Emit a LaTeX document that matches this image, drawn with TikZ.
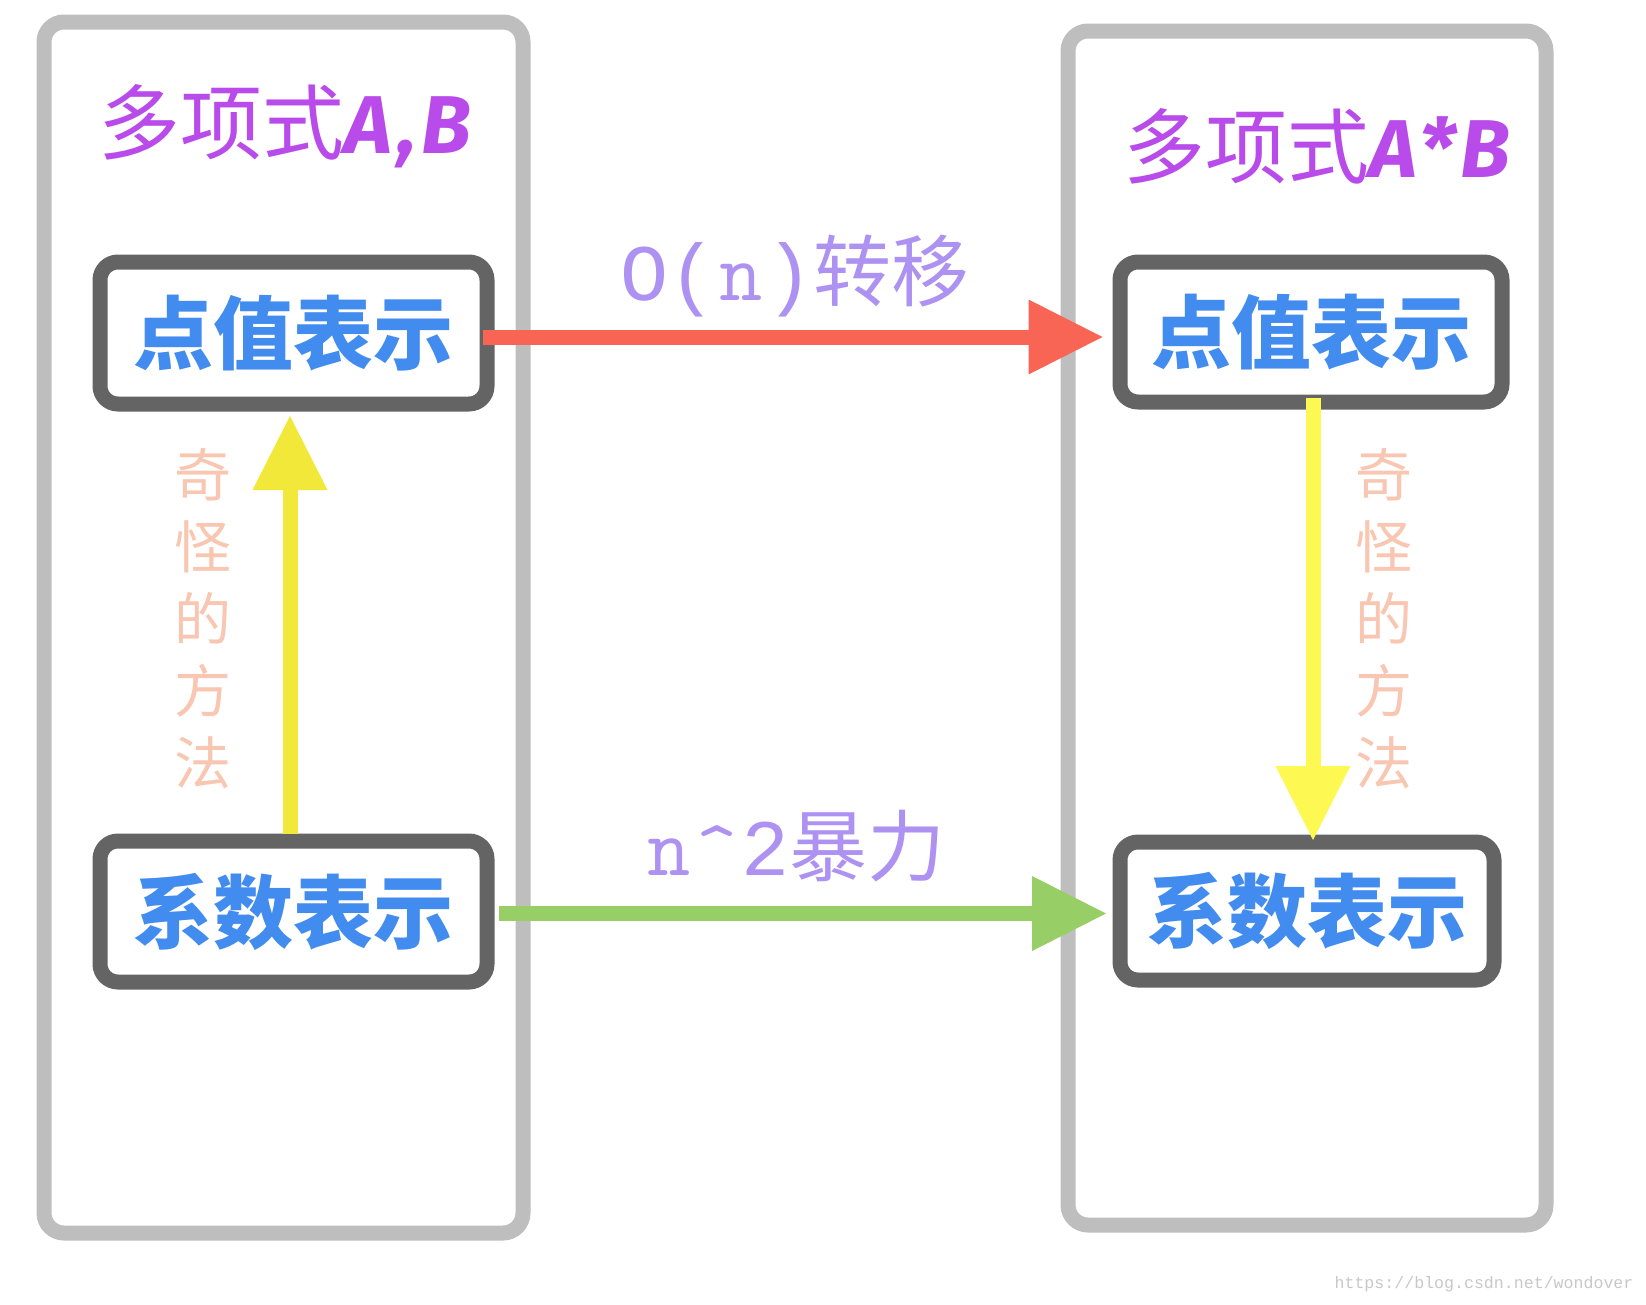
\documentclass[tikz,border=0pt]{standalone}
\usepackage{fontspec}
\setmainfont{Noto Sans CJK SC}
\newfontfamily\cjk{Noto Sans CJK SC}
\newfontfamily\monof{Liberation Mono}
\newfontfamily\titlelat{Fira Sans}
\usetikzlibrary{arrows.meta}
\definecolor{outergray}{HTML}{BEBEBE}
\definecolor{boxgray}{HTML}{646464}
\definecolor{textblue}{HTML}{428CF0}
\definecolor{arrred}{HTML}{F96555}
\definecolor{yelL}{HTML}{F2E83A}
\definecolor{yelR}{HTML}{FEF952}
\definecolor{grn}{HTML}{97CE65}
\definecolor{purp}{HTML}{B84BEA}
\definecolor{lav}{HTML}{AE92F2}
\definecolor{salmon}{HTML}{F8C6B1}
\definecolor{wmgray}{HTML}{C8C8C8}
\newcommand\codefont{\monof\fontsize{80}{80}\selectfont}
\newcommand\sern{\makebox[48pt]{\ttfamily\fontsize{84}{84}\selectfont n}}
\begin{document}
\begin{tikzpicture}[x=1pt,y=-1pt,
  outerbox/.style={draw=outergray,line width=15pt,rounded corners=20pt,inner sep=0pt},
  repbox/.style={draw=boxgray,fill=white,line width=15pt,rounded corners=18pt,inner sep=0pt,
    text=textblue,font={\cjk\bfseries\fontsize{80}{80}\selectfont}},
  titletext/.style={inner sep=0pt,text=purp,font={\cjk\fontsize{82}{82}\selectfont}},
  methodtext/.style={inner sep=0pt,align=center,text=salmon,font={\cjk\fontsize{57}{72}\selectfont}},
  labtext/.style={inner sep=0pt,text=lav,font={\cjk\fontsize{78}{78}\selectfont}},
  fatarrow/.style={line width=15pt,-{Triangle[length=74pt,width=75pt,line width=0pt]}},
  wmtext/.style={inner sep=0pt,text=wmgray,font={\monof\fontsize{16.6}{17}\selectfont}}
]
\fill[white] (0,0) rectangle (1646,1304);
\useasboundingbox (0,0) rectangle (1646,1304);

% outer panels
\node[outerbox,minimum width=479pt,minimum height=1211pt] (boxL) at (283.5,627.5) {};
\node[outerbox,minimum width=478pt,minimum height=1194pt] (boxR) at (1307,628) {};

% titles
\node[titletext] (tL) at (285,126) {多项式{\titlelat\bfseries\itshape\addfontfeatures{LetterSpace=6} A,B}};
\node[titletext] (tR) at (1317,146) {多项式{\titlelat\bfseries\itshape\addfontfeatures{LetterSpace=6} A*B}};

% representation boxes
\node[repbox,minimum width=387pt,minimum height=142pt] (pL) at (293.5,333) {点值表示};
\node[repbox,minimum width=387pt,minimum height=141pt] (cL) at (293.5,911.5) {系数表示};
\node[repbox,minimum width=382pt,minimum height=140pt] (pR) at (1311,332) {点值表示};
\node[repbox,minimum width=374pt,minimum height=138pt] (cR) at (1307,911) {系数表示};

% vertical labels
\node[methodtext] (mL) at (203,619) {奇\\怪\\的\\方\\法};
\node[methodtext] (mR) at (1384,619) {奇\\怪\\的\\方\\法};

% arrow labels
\node[labtext] (lO) at (795,276) {{\codefont O(\sern)}转移};
\node[labtext] (lN) at (795,846) {{\codefont\sern\makebox[48pt]{\ttfamily\fontsize{80}{80}\selectfont\^{}}2}暴力};

% arrows
\draw[fatarrow,draw=arrred,shorten <=-11.5pt,shorten >=10pt] ([yshift=-4pt]pL.east) -- ([yshift=-5pt]pR.west);
\draw[fatarrow,draw=grn,shorten <=4.5pt,shorten >=6.5pt] ([yshift=-2pt]cL.east) -- ([yshift=-2.5pt]cR.west);
\draw[fatarrow,draw=yelL,shorten >=4.5pt] ([xshift=-3.5pt]cL.north) -- ([xshift=-3.5pt]pL.south);
\draw[fatarrow,draw=yelR,shorten <=-11.5pt,shorten >=-5.5pt] ([xshift=2pt]pR.south) -- ([xshift=6pt]cR.north);

% watermark
\node[wmtext] (wm) at (1484,1284) {https://blog.csdn.net/wondover};
\end{tikzpicture}
\end{document}
